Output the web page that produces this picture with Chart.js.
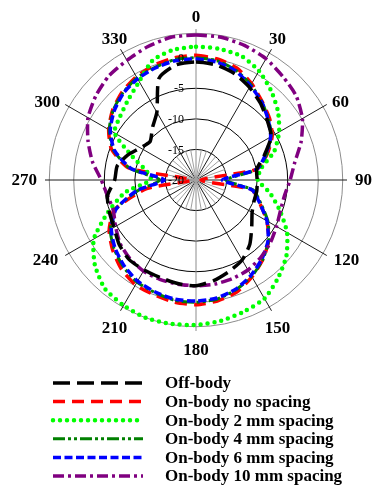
<!DOCTYPE html>
<html><head><meta charset="utf-8">
<script src="https://cdn.jsdelivr.net/npm/chart.js@4.4.1/dist/chart.umd.min.js"></script>
<style>html,body{margin:0;padding:0;background:#fff}#wrap{position:relative;width:373px;height:488px}</style>
</head><body><div id="wrap"><canvas id="c"></canvas></div>
<script>
// Angle categories (degrees, clockwise from top)
const angleDeg = [0,10,20,30,40,50,60,70,80,90,100,110,120,130,140,150,160,170,180,190,200,210,220,230,240,250,260,270,280,290,300,310,320,330,340,350];
const shownAngles = [0,30,60,90,120,150,180,210,240,270,300,330];
// Radial tick labels (dB)
const tickValues = [-20,-15,-10,-5,0];
const outerRingValue = 4;
const seriesNames = ['Off-body','On-body no spacing','On-body 2 mm spacing','On-body 4 mm spacing','On-body 6 mm spacing','On-body 10 mm spacing'];
// Series values (dB) at each angle
const offBody = [-0.7,-0.9,-1.5,-2.5,-3.6,-4.8,-5.8,-8.1,-9.9,-10.0,-9.9,-9.9,-9.4,-8.1,-6.3,-4.9,-4.1,-3.3,-2.7,-2.8,-3.0,-3.0,-3.0,-3.6,-4.5,-4.9,-5.3,-6.7,-6.9,-8.1,-9.5,-10.2,-8.9,-7.2,-2.3,-0.9];
const onBodyNoSpacing = [0.4,0.1,-0.5,-1.8,-3.2,-4.3,-5.6,-7.6,-9.9,-19.2,-10.7,-8.9,-6.6,-4.5,-3.0,-1.7,-0.5,0.1,0.4,0.3,0.0,-0.2,-1.0,-2.2,-3.6,-5.8,-11.8,-19.2,-8.9,-5.3,-3.5,-2.2,-1.2,-0.5,0.0,0.3];
const onBody2mm = [1.8,1.8,1.6,0.6,-0.9,-2.5,-4.3,-6.4,-9.2,-9.9,-7.7,-5.4,-2.8,-0.7,0.9,2.4,2.9,3.4,3.7,3.9,4.0,3.7,3.2,1.6,-0.7,-4.7,-8.2,-12.6,-11.8,-9.0,-4.6,-3.8,-2.8,-1.4,0.8,1.6];
const onBody4mm = [0.0,-0.2,-0.9,-2.0,-3.3,-4.5,-5.8,-7.7,-9.7,-15.1,-10.5,-8.7,-6.4,-4.5,-3.0,-1.8,-0.9,-0.2,0.0,0.0,-0.4,-0.7,-1.5,-2.5,-3.8,-5.9,-10.5,-14.1,-9.0,-5.6,-3.6,-2.3,-1.4,-0.7,-0.4,0.0];
const onBody6mm = [-0.2,-0.4,-1.0,-2.2,-3.3,-4.6,-5.9,-7.9,-9.9,-15.7,-10.7,-8.9,-6.6,-4.6,-3.2,-2.0,-1.0,-0.4,-0.2,-0.2,-0.5,-0.9,-1.7,-2.7,-4.0,-6.1,-10.2,-14.8,-9.2,-5.8,-3.8,-2.5,-1.5,-0.9,-0.5,-0.2];
const onBody10mm = [3.7,3.7,3.4,2.9,2.1,1.4,0.1,-1.7,-3.6,-4.6,-5.3,-5.3,-4.8,-4.1,-3.5,-3.0,-2.8,-2.7,-2.7,-2.7,-2.7,-2.8,-3.2,-3.8,-4.8,-5.6,-5.3,-4.5,-2.8,-1.2,0.4,1.4,2.2,2.6,3.2,3.7];

const seriesValues = [offBody, onBodyNoSpacing, onBody2mm, onBody4mm, onBody6mm, onBody10mm];
const styles = [
  {color:'#000000', dash:[17,7], width:3.5, cap:'butt', order:0},
  {color:'#ff0000', dash:[12,7], width:3.5, cap:'butt', order:5},
  {color:'#00ff00', dash:[0,7], width:4.5, cap:'round', order:4},
  {color:'#008000', dash:[12,3,3,3,3,3], width:3, cap:'butt', order:3},
  {color:'#0000ff', dash:[8,3.5], width:3.5, cap:'butt', order:2},
  {color:'#800080', dash:[11,4,3,4], width:3.5, cap:'butt', order:1}
];

const datasets = seriesValues.map((vals, i) => ({
  label: seriesNames[i],
  data: vals,
  borderColor: styles[i].color,
  backgroundColor: styles[i].color,
  borderWidth: styles[i].width,
  borderDash: styles[i].dash,
  borderCapStyle: styles[i].cap,
  borderJoinStyle: 'round',
  pointRadius: 0,
  pointHitRadius: 0,
  fill: false,
  tension: 0.2,
  order: styles[i].order
}));

const serif = '"Liberation Serif","Times New Roman",serif';

const decor = {
  id: 'decor',
  beforeDatasetsDraw(chart) {
    const s = chart.scales.r, ctx = chart.ctx;
    ctx.save();
    const rIn = s.getDistanceFromCenterForValue(-15);
    ctx.strokeStyle = '#a0a0a0'; ctx.lineWidth = 1;
    angleDeg.forEach((a, i) => {
      if (a % 30 === 0) return;
      const p = s.getPointPosition(i, rIn);
      ctx.beginPath(); ctx.moveTo(s.xCenter, s.yCenter); ctx.lineTo(p.x, p.y); ctx.stroke();
    });
    ctx.restore();
  },
  afterDatasetsDraw(chart) {
    const s = chart.scales.r, ctx = chart.ctx;
    ctx.save();
    ctx.font = '12px ' + serif; ctx.fillStyle = '#000';
    ctx.textAlign = 'right'; ctx.textBaseline = 'middle';
    tickValues.forEach(v => {
      const d = s.getDistanceFromCenterForValue(v);
      ctx.fillText(String(v), s.xCenter - 12, s.yCenter - d + 1);
    });
    ctx.restore();
  },
  afterDraw(chart) {
    const s = chart.scales.r, ctx = chart.ctx;
    ctx.save();
    ctx.font = 'bold 17px ' + serif; ctx.fillStyle = '#000';
    ctx.textBaseline = 'middle';
    shownAngles.forEach(a => {
      const i = angleDeg.indexOf(a);
      const th = a * Math.PI / 180;
      const sn = Math.sin(th), cs = Math.cos(th);
      if (Math.abs(sn) > 0.8) {
        const horiz = Math.abs(cs) < 0.01;
        const d = horiz ? 159 : (cs < 0 ? 159 : 157);
        const p = s.getPointPosition(i, d);
        ctx.textAlign = sn > 0 ? 'left' : 'right';
        ctx.fillText(String(a), p.x, p.y + 1);
      } else {
        const p = s.getPointPosition(i, 163);
        ctx.textAlign = 'center';
        ctx.fillText(String(a), p.x, p.y + (cs < 0 ? 6.5 : 0) + 1);
      }
    });
    // legend
    const x0 = 53, x1 = 143, tx = 165, y0 = 383, dy = 18.6;
    chart.data.datasets.forEach((ds, i) => {
      const y = y0 + i * dy;
      ctx.save();
      ctx.strokeStyle = ds.borderColor; ctx.lineWidth = ds.borderWidth;
      ctx.setLineDash(ds.borderDash); ctx.lineCap = ds.borderCapStyle;
      ctx.beginPath(); ctx.moveTo(x0, y); ctx.lineTo(x1, y); ctx.stroke();
      ctx.restore();
      ctx.textAlign = 'left'; ctx.textBaseline = 'middle';
      ctx.fillText(ds.label, tx, y + 1);
    });
    ctx.restore();
  }
};

new Chart(document.getElementById('c'), {
  type: 'radar',
  data: { labels: angleDeg.map(String), datasets },
  options: {
    responsive: true, maintainAspectRatio: false, animation: false,
    layout: { padding: { left: 45, top: 29, right: 26, bottom: 157 } },
    plugins: { legend: { display: false }, tooltip: { enabled: false } },
    scales: {
      r: {
        min: -20, max: 4.7,
        startAngle: 0,
        afterBuildTicks: (sc) => { sc.ticks = tickValues.concat([outerRingValue]).map(v => ({ value: v })); },
        ticks: { display: false },
        pointLabels: { display: false },
        grid: { circular: true, lineWidth: 1, color: (c) => (c.tick && c.tick.value >= 0) ? '#8c8c8c' : '#000000' },
        angleLines: { display: true, lineWidth: 1, color: (c) => c.index % 3 !== 0 ? 'rgba(0,0,0,0)' : (c.index % 18 === 0 ? '#8c8c8c' : '#1a1a1a') }
      }
    }
  },
  plugins: [decor]
});
</script></body></html>
